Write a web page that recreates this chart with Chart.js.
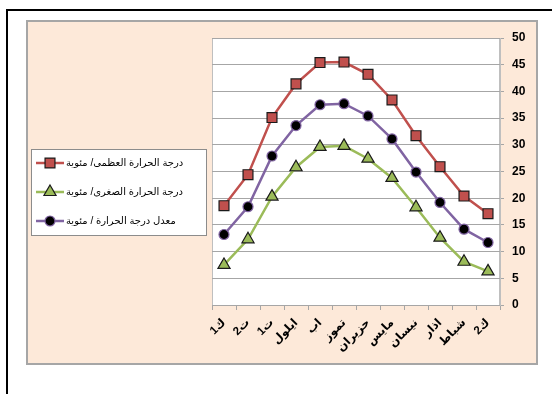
<!DOCTYPE html>
<html>
<head>
<meta charset="utf-8">
<script src="https://cdn.jsdelivr.net/npm/chart.js@4"></script>
<style>
  html, body { margin: 0; padding: 0; background: #ffffff; }
  #wrap { width: 552px; height: 394px; position: relative; }
</style>
</head>
<body>
<div id="wrap"><canvas id="c" width="552" height="394"></canvas></div>
<script>
// Months, ordered right-to-left from كانون الثاني (right) to كانون الأول (left)
const months = ['ك1', 'ت2', 'ت1', 'ايلول', 'اب', 'تموز', 'حزيران', 'مايس', 'نيسان', 'اذار', 'شباط', 'ك2'];

// Monthly temperatures (°C)
const maxTemp = [18.6, 24.4, 35.1, 41.4, 45.4, 45.5, 43.2, 38.4, 31.7, 25.9, 20.4, 17.1];
const minTemp = [7.5, 12.3, 20.3, 25.8, 29.6, 29.8, 27.4, 23.8, 18.3, 12.6, 8.1, 6.3];
const avgTemp = [13.2, 18.4, 27.9, 33.6, 37.5, 37.7, 35.4, 31.1, 24.9, 19.2, 14.2, 11.7];

const seriesNames = [
  'درجة الحرارة العظمى/ مئوية',
  'درجة الحرارة الصغرى/ مئوية',
  'معدل درجة الحرارة / مئوية'
];

const yMin = 0, yMax = 50, yStep = 5;

const FONT = '"Liberation Sans", Arial, "DejaVu Sans", sans-serif';

// Page frame, tinted chart area and white plot area
const framePlugin = {
  id: 'frame',
  beforeDraw(chart) {
    const ctx = chart.ctx;
    const a = chart.chartArea;
    ctx.save();
    ctx.fillStyle = '#ffffff';
    ctx.fillRect(0, 0, chart.width, chart.height);

    ctx.strokeStyle = '#000000';
    ctx.lineWidth = 2;
    ctx.beginPath();
    ctx.moveTo(7, 394);
    ctx.lineTo(7, 10);
    ctx.lineTo(552, 10);
    ctx.stroke();

    ctx.fillStyle = '#FDE9D9';
    ctx.fillRect(27, 21, 510, 343);
    ctx.strokeStyle = '#A6A6A6';
    ctx.lineWidth = 2;
    ctx.strokeRect(27, 21, 510, 343);

    ctx.fillStyle = '#ffffff';
    ctx.fillRect(a.left, a.top, a.right - a.left, a.bottom - a.top);
    ctx.strokeStyle = '#BFBFBF';
    ctx.lineWidth = 1;
    ctx.strokeRect(a.left + 0.5, a.top + 0.5, a.right - a.left - 1, a.bottom - a.top);
    ctx.restore();
  }
};

// Boxed legend: line sample with marker, then the series name
const legendPlugin = {
  id: 'boxLegend',
  afterDraw(chart) {
    const ctx = chart.ctx;
    ctx.save();
    ctx.fillStyle = '#ffffff';
    ctx.fillRect(31, 149, 176, 87);
    ctx.strokeStyle = '#8C8C8C';
    ctx.lineWidth = 1;
    ctx.strokeRect(31.5, 149.5, 175, 86);

    chart.data.datasets.forEach((ds, i) => {
      const y = 163 + i * 29;
      ctx.strokeStyle = ds.borderColor;
      ctx.lineWidth = ds.borderWidth;
      ctx.beginPath();
      ctx.moveTo(36, y);
      ctx.lineTo(64, y);
      ctx.stroke();

      ctx.fillStyle = ds.pointBackgroundColor;
      ctx.strokeStyle = ds.pointBorderColor;
      ctx.lineWidth = ds.pointBorderWidth;
      Chart.helpers.drawPoint(ctx, {
        pointStyle: ds.pointStyle,
        radius: ds.pointRadius,
        borderWidth: ds.pointBorderWidth,
        rotation: 0
      }, 50, y);

      ctx.fillStyle = '#000000';
      ctx.font = '10px ' + FONT;
      ctx.textAlign = 'left';
      ctx.textBaseline = 'middle';
      ctx.fillText(ds.label, 66, y);
    });
    ctx.restore();
  }
};

new Chart(document.getElementById('c'), {
  type: 'line',
  data: {
    labels: months,
    datasets: [
      {
        label: seriesNames[0],
        data: maxTemp,
        borderColor: '#C0504D',
        borderWidth: 2.5,
        pointStyle: 'rect',
        pointRadius: 7,
        pointBackgroundColor: '#C0504D',
        pointBorderColor: '#1a1a1a',
        pointBorderWidth: 1.2,
        tension: 0
      },
      {
        label: seriesNames[1],
        data: minTemp,
        borderColor: '#9BBB59',
        borderWidth: 2.5,
        pointStyle: 'triangle',
        pointRadius: 7,
        pointBackgroundColor: '#9BBB59',
        pointBorderColor: '#1a1a1a',
        pointBorderWidth: 1.2,
        tension: 0
      },
      {
        label: seriesNames[2],
        data: avgTemp,
        borderColor: '#8064A2',
        borderWidth: 2.5,
        pointStyle: 'circle',
        pointRadius: 5,
        pointBackgroundColor: '#000000',
        pointBorderColor: '#8064A2',
        pointBorderWidth: 1.2,
        tension: 0
      }
    ]
  },
  options: {
    responsive: false,
    animation: false,
    devicePixelRatio: 1,
    layout: { padding: { left: 212, top: 38, right: 12, bottom: 0 } },
    plugins: {
      legend: { display: false },
      tooltip: { enabled: false }
    },
    scales: {
      x: {
        type: 'category',
        offset: true,
        grid: {
          offset: true,
          drawOnChartArea: false,
          drawTicks: true,
          tickLength: 5,
          color: '#A6A6A6'
        },
        border: { display: true, color: '#A6A6A6', width: 1 },
        ticks: {
          autoSkip: false,
          maxRotation: 45,
          minRotation: 45,
          padding: 6,
          color: '#000000',
          font: { family: FONT, size: 11.5, weight: 'bold' }
        },
        afterFit(scale) { scale.height = 89; }
      },
      y: {
        position: 'right',
        min: yMin,
        max: yMax,
        grid: {
          color: '#A6A6A6',
          lineWidth: 1,
          drawTicks: true,
          tickLength: 4
        },
        border: { display: true, color: '#BFBFBF', width: 1 },
        ticks: {
          stepSize: yStep,
          padding: 8,
          color: '#000000',
          font: { family: FONT, size: 12, weight: 'bold' }
        },
        afterFit(scale) { scale.width = 40; }
      }
    }
  },
  plugins: [framePlugin, legendPlugin]
});
</script>
</body>
</html>
